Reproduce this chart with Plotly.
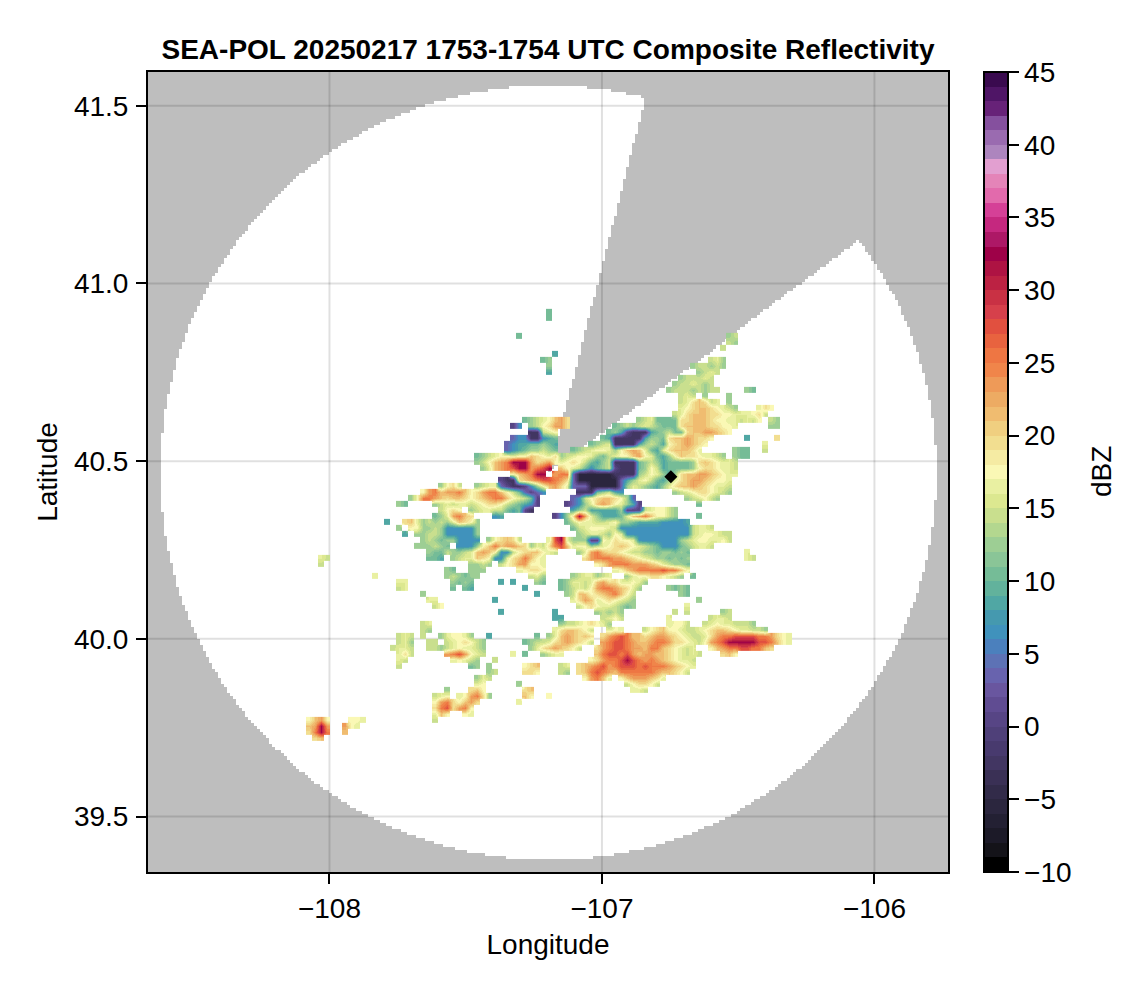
import numpy as np
import plotly.graph_objects as go

TITLE = 'SEA-POL 20250217 1753-1754 UTC Composite Reflectivity'
FONT = 'Liberation Sans'

x_ticks = [-108, -107, -106]
y_ticks = [39.5, 40.0, 40.5, 41.0, 41.5]
y_tick_labels = ['39.5', '40.0', '40.5', '41.0', '41.5']
cbar_ticks = [-10, -5, 0, 5, 10, 15, 20, 25, 30, 35, 40, 45]

# colorbar bands, 1 dBZ each, from 45 down to -10
band_colors = [
    '#3A0A4F', '#4F1566', '#672278', '#85509E', '#9A6BB0', '#AD85BE', '#E29FD0',
    '#E484B8', '#E26AAC', '#D54097', '#C5287F', '#AD1866', '#9E0148', '#AE1343',
    '#BC2243', '#C93144', '#D6404B', '#E1503F', '#E8633F', '#EE7643', '#F0854A',
    '#EE9A58', '#EDAB63', '#F0BC70', '#F0CF80', '#F2DE90', '#F5EBA3', '#FAF8B5',
    '#E9F0A2', '#DCE890', '#C9DF8E', '#B3D78F', '#9DCE94', '#8AC597', '#75BC97',
    '#62B29C', '#50A7A4', '#4599AF', '#4092BC', '#4B80BD', '#5D72B5', '#6863AE',
    '#69569F', '#604C92', '#574585', '#4F4079', '#483A6E', '#423662', '#3A3055',
    '#322B49', '#2B263E', '#232033', '#1C1A28', '#141319', '#000000',
]

# radar coverage: site, range and the blocked sector
radar_lon = -107.195
radar_lat = 40.468
radar_range = 1.09
lon_stretch = 1.307
blocked_az = (14.4, 53.1)

# the black diamond
site_lon = [-106.747]
site_lat = [40.456]

# reflectivity grid
echo_lon0 = -108.0532
echo_lat0 = 40.9201
echo_dlon = 0.02202
echo_dlat = 0.01688

level_dbz = {
    'A': -5.5, 'B': -2.5, 'C': 0.5, 'D': 3.5, 'E': 6.5, 'F': 8.5, 'G': 10.5,
    'H': 12.5, 'I': 14.5, 'J': 16.0, 'K': 17.5, 'L': 19.5, 'M': 21.0, 'N': 23.0,
    'O': 25.0, 'P': 27.5, 'Q': 32.0, 'R': 36.5,
}

# row: [(first column, levels), ...]
echo_rows = {
    0: [(39, 'G')],
    1: [(39, 'G')],
    4: [(34, 'G'), (69, 'HI')],
    5: [(69, 'IH')],
    6: [(68, 'I')],
    7: [(40, 'F')],
    8: [(38, 'GH'), (66, 'IJH')],
    9: [(39, 'H'), (63, 'HIIH'), (67, 'IH')],
    10: [(39, 'F'), (64, 'HIJI')],
    11: [(61, 'HIIIJI')],
    12: [(60, 'HIIJIHI')],
    13: [(59, 'HIIIHIHII'), (72, 'HG')],
    14: [(61, 'IJI'), (65, 'H'), (69, 'H')],
    15: [(61, 'IJLMLIJ'), (69, 'H')],
    16: [(61, 'JKLMMLKJIH'), (74, 'JLK')],
    17: [(60, 'IJLMMMLLKKJJJKLI')],
    18: [(35, 'GHIJKMNL'), (54, 'HIJGGGGLLMMMLKKJJIJIK'), (76, 'IH')],
    19: [(33, 'CE'), (36, 'HIKLNNL'), (50, 'GHIHIJIHGGGLMMMMLLKKJ'), (76, 'HH')],
    20: [(36, 'BB'), (38, 'IJK'), (49, 'GHFCBBBFGHIGGLMMNNMLK')],
    21: [(33, 'DEEBBEFG'), (48, 'GFBBBBBFHHGLMMNMLLK'), (72, 'F'), (77, 'L')],
    22: [(32, 'DEFFGGHGF'), (46, 'GHIJBBBBFHIHFKLMNMLK'), (75, 'J')],
    23: [(32, 'DEFGHHIHG'), (43, 'GHIJKKJHKMNMJGFJLMMMLJ'), (70, 'HGG'), (75, 'I')],
    24: [(27, 'GHIJKKJKKMLKJL'), (41, 'HIJKKJHGIJKKMNKJGFHKMLLKJJIH'), (70, 'HGG')],
    25: [(27, 'HIKMNOQQQNLMNK'), (41, 'JKLKIGFHIBBBBGHIHFGGGGHLMLKJJI')],
    26: [(28, 'HJMNOPQQNOPQ'), (41, 'MKJIGEGHICBBBGHKIFGGGGHKLLKJJI')],
    27: [(33, 'KMNOQQ'), (40, 'NO'), (42, 'ODAAAAAABBBB'), (54, 'HIKJHFHLMMNNMLKJJ')],
    28: [(31, 'CBB'), (34, 'LMNOPPON'), (42, 'LDAAAAAAAA'), (51, 'DFHJKIGFHJLMNNMLKKJ')],
    29: [(21, 'HKLI'), (27, 'HIJJ'), (31, 'DCBBCE'), (37, 'HKMNLJ'), (43, 'DDDAAAAA'),
         (51, 'DHJIHGFHJLMMNMLKJJI')],
    30: [(18, 'KNOMNNOMKLNOO'), (31, 'MKIG'), (35, 'DCDE'), (44, 'BBB'), (47, 'GHIFE'),
         (60, 'HIJKLLKJIH')],
    31: [(16, 'HKOONMLMMLKLMNOOMKJIG'), (37, 'C'), (43, 'DEIKLMMLKHD'), (62, 'HIJKIH')],
    32: [(14, 'HG'), (20, 'HIJIJJIJKLLKIHGFE'), (37, 'C'), (42, 'CDEHJMNMKJHFC'), (64, 'G')],
    33: [(21, 'IKLK'), (26, 'HIJJIIGFG'), (35, 'CB'), (43, 'FHIFFFFFHCCCIJKKIH')],
    34: [(20, 'GH'), (22, 'JNOML'), (30, 'EF'), (40, 'CEHLQNJHFFFGJMNOMKKIH'), (64, 'G')],
    35: [(12, 'F'), (15, 'LMJHIHIHJMLKH'), (42, 'GIKJJIIJK'), (51, 'HHGFFFFEEEEF')],
    36: [(14, 'H'), (16, 'KKHHIH'), (22, 'EEEEE'), (27, 'H'), (43, 'GIJKKKJIIH'),
         (51, 'EEEEEEEEEEEE'), (63, 'IJJI')],
    37: [(15, 'F'), (17, 'HHIIHE'), (23, 'EEEE'), (27, 'H'), (44, 'HIJJIHKJ'),
         (52, 'EEEEEEEEEEE'), (63, 'IJKKJII')],
    38: [(18, 'HIHGHH'), (24, 'EEEE'), (29, 'HKLMLI'), (39, 'JPQ'), (42, 'J'), (43, 'HHH'),
         (46, 'CC'), (48, 'KJLKKJ'), (54, 'EEEE'), (58, 'EEE'), (61, 'HI'), (63, 'JKKJJKI')],
    39: [(17, 'HHHIHG'), (24, 'EEE'), (27, 'HKMOMNNML'), (36, 'HJI'), (39, 'LOPM'),
         (43, 'JKKHIJKLMLKJIHG'), (58, 'EEE'), (61, 'GHI'), (64, 'JJI')],
    40: [(19, 'HGG'), (22, 'IHHI'), (26, 'JMNMKEEIKLMMKJI'), (44, 'HJNOMLLKJIIHHGHHGHG'),
         (72, 'J')],
    41: [(1, 'JI'), (19, 'GGF'), (23, 'HIJJMLKEEJLMOMKJ'),
         (45, 'LNOOONNMLKJIHHGHGH'), (72, 'JI')],
    42: [(1, 'I'), (26, 'HHIH'), (31, 'IKLNNKKJ'), (47, 'KLNOOONNNMLJIHHG')],
    43: [(22, 'HG'), (26, 'HHH'), (34, 'JKLLK'), (50, 'JKMNOOOOPOOMK')],
    44: [(10, 'J'), (22, 'HIHG'), (26, 'HH'), (36, 'IJH'), (43, 'HIJJHIJ'),
         (52, 'HJKKLLKJIH'), (63, 'G')],
    45: [(14, 'JJ'), (23, 'HGHG'), (31, 'F'), (33, 'F'), (37, 'HG'),
         (41, 'GHJJIJMNLLJJKJH')],
    46: [(14, 'IJ'), (23, 'G'), (25, 'GF'), (35, 'F'), (41, 'GHIJIKNOONMLJH'), (59, 'HGHG')],
    47: [(18, 'H'), (37, 'F'), (42, 'HIMMKLMNOMKI'), (61, 'HG')],
    48: [(19, 'JJ'), (30, 'F'), (43, 'JLNMJKLKJIH'), (64, 'H')],
    49: [(20, 'IK'), (44, 'IKLKJJIHGH'), (62, 'J')],
    50: [(31, 'F'), (40, 'F'), (47, 'HIHIH'), (60, 'I'), (62, 'I'), (68, 'HI')],
    51: [(40, 'FF'), (48, 'IJKI'), (59, 'J'), (66, 'IJJI')],
    52: [(18, 'IJ'), (41, 'HIIJKLKJH'), (59, 'JKKI'), (65, 'IJKJJIIIH')],
    53: [(18, 'IH'), (40, 'JLMMLKI'), (49, 'JKJ'), (55, 'IKLMKKJI'), (63, 'IJKLMMLKJJIIH')],
    54: [(14, 'IJI'), (18, 'I'), (21, 'HJKKJH'), (29, 'F'), (37, 'G'), (39, 'HJMNMLML'),
         (48, 'LNOPOMMLMNNMLKJI'), (64, 'I'), (65, 'JLNOOPPPPOONLKJ')],
    55: [(14, 'IJH'), (19, 'II'), (22, 'IJKLKIH'), (35, 'GHIIJLMNMLKI'),
         (48, 'NOPPONMMNOONLLKJ'), (64, 'IKNOPQQQQQPPOMKJ')],
    56: [(13, 'IJJI'), (19, 'II'), (21, 'HIJKJJIH'), (36, 'HJLMNMLKI'),
         (47, 'LNOPPONNMOOMLKJIJ'), (66, 'KMNOOPPOOML')],
    57: [(14, 'JLI'), (22, 'NOPNKJI'), (33, 'J'), (35, 'G'), (38, 'HIJJ'),
         (47, 'MOPPOPNMNNMMLKJIJI'), (68, 'LMK')],
    58: [(14, 'JI'), (23, 'JKJIH'), (30, 'I'), (46, 'KLNOOPQPONONMLKJJI')],
    59: [(14, 'I'), (26, 'GH'), (29, 'H'), (35, 'KLM'), (41, 'IJ'),
         (44, 'LMNOPNOPPPOPOOONMLKJ')],
    60: [(29, 'HI'), (35, 'LLK'), (41, 'IH'), (44, 'LMOPONMOOOOOONMMLKI')],
    61: [(27, 'HJI'), (45, 'KNOMJ'), (51, 'KMNNNMLJ')],
    62: [(27, 'JK'), (34, 'H'), (52, 'IKLLKI')],
    63: [(22, 'H'), (26, 'LMK'), (35, 'LM'), (53, 'JJI')],
    64: [(20, 'IJK'), (24, 'JKNOL'), (29, 'H'), (35, 'MK'), (39, 'K')],
    65: [(20, 'KNOLKMNL'), (34, 'J')],
    66: [(20, 'LOPLNOK')],
    67: [(20, 'JMK'), (25, 'KJ')],
    68: [(-1, 'KMNK'), (6, 'KKJ'), (20, 'I')],
    69: [(-1, 'MNQN'), (5, 'N'), (6, 'KJ')],
    70: [(-1, 'LOQO'), (5, 'M')],
    71: [(0, 'LM')],
}


def echo_grid():
    n_rows = max(echo_rows) + 1
    n_cols = 84
    z = np.full((n_rows, n_cols), np.nan)
    for row, segments in echo_rows.items():
        for col, levels in segments:
            for i, level in enumerate(levels):
                # column -2 is the first one in the array
                z[row, col + 2 + i] = level_dbz[level]
    lons = echo_lon0 + echo_dlon * (np.arange(n_cols) - 2)
    lats = echo_lat0 - echo_dlat * np.arange(n_rows)
    return lons, lats, z


def coverage_grid():
    # white where the radar sees, nothing elsewhere
    lons = np.arange(-108.70, -105.70, 0.011)
    lats = np.arange(39.30, 41.62, 0.0085)
    lon2, lat2 = np.meshgrid(lons, lats)
    east = (lon2 - radar_lon) / lon_stretch
    north = lat2 - radar_lat
    dist = np.hypot(east, north)
    az = np.degrees(np.arctan2(east, north))
    seen = (dist <= radar_range) & ~((az > blocked_az[0]) & (az < blocked_az[1]))
    return lons, lats, np.where(seen, 1.0, np.nan)


def stepped_scale():
    colors = band_colors[::-1]
    n = len(colors)
    scale = []
    for i, color in enumerate(colors):
        scale.append([i / n, color])
        scale.append([(i + 1) / n, color])
    return scale


x_range = [-108.666, -105.730]
y_range = [39.344, 41.595]

cov_lon, cov_lat, cov_z = coverage_grid()
echo_lon, echo_lat, echo_z = echo_grid()

fig = go.Figure()

fig.add_trace(go.Heatmap(
    x=cov_lon, y=cov_lat, z=cov_z,
    colorscale=[[0, 'white'], [1, 'white']],
    showscale=False, hoverinfo='skip',
))

# gridlines sit over the coverage mask but under the echoes
grid_x, grid_y = [], []
for tick in x_ticks:
    grid_x += [tick, tick, None]
    grid_y += [y_range[0], y_range[1], None]
for tick in y_ticks:
    grid_x += [x_range[0], x_range[1], None]
    grid_y += [tick, tick, None]
fig.add_trace(go.Scatter(
    x=grid_x, y=grid_y, mode='lines',
    line=dict(color='rgba(0,0,0,0.12)', width=2),
    showlegend=False, hoverinfo='skip',
))

fig.add_trace(go.Heatmap(
    x=echo_lon, y=echo_lat, z=echo_z,
    xaxis='x2', yaxis='y2',
    zsmooth='best',
    colorscale=stepped_scale(), zmin=-10, zmax=45,
    colorbar=dict(
        x=1.045, xanchor='left', y=0.5, yanchor='middle',
        len=1, lenmode='fraction', thickness=24,
        outlinecolor='black', outlinewidth=2,
        tickmode='array', tickvals=cbar_ticks,
        ticks='outside', ticklen=10, tickwidth=2, tickcolor='black',
        tickfont=dict(family=FONT, size=28, color='black'),
        xpad=0, ypad=0,
    ),
))

fig.add_trace(go.Scatter(
    x=site_lon, y=site_lat, xaxis='x2', yaxis='y2',
    mode='markers',
    marker=dict(symbol='diamond', size=10, color='black'),
    showlegend=False,
))

axis_style = dict(
    showgrid=False, zeroline=False, mirror=True,
    showline=True, linecolor='black', linewidth=2,
    ticks='outside', ticklen=10, tickwidth=2, tickcolor='black',
    tickfont=dict(family=FONT, size=28, color='black'),
)

fig.update_layout(
    width=1130,
    height=974,
    margin=dict(l=140, r=190, t=64, b=110),
    paper_bgcolor='white',
    plot_bgcolor='#BEBEBE',
    showlegend=False,
    font=dict(family=FONT, color='black'),
    title=dict(
        text=f'<b>{TITLE}</b>',
        x=540 / 1130, xanchor='center',
        y=1 - 41 / 974, yanchor='middle',
        font=dict(family=FONT, size=28, color='black'),
    ),
    xaxis=dict(
        range=x_range, tickvals=x_ticks,
        title=dict(text='Longitude', font=dict(family=FONT, size=28), standoff=12),
        **axis_style,
    ),
    yaxis=dict(
        range=y_range, tickvals=y_ticks, ticktext=y_tick_labels,
        ticklabelstandoff=2,
        title=dict(text='Latitude', font=dict(family=FONT, size=28), standoff=8),
        **axis_style,
    ),
    xaxis2=dict(range=x_range, overlaying='x', visible=False),
    yaxis2=dict(range=y_range, overlaying='y', visible=False),
    annotations=[dict(
        text='dBZ', textangle=-90,
        xref='paper', yref='paper',
        x=(1101 - 148) / 800, xanchor='center',
        y=0.5, yanchor='middle',
        showarrow=False,
        font=dict(family=FONT, size=28, color='black'),
    )],
)

fig.write_html('out.html')
